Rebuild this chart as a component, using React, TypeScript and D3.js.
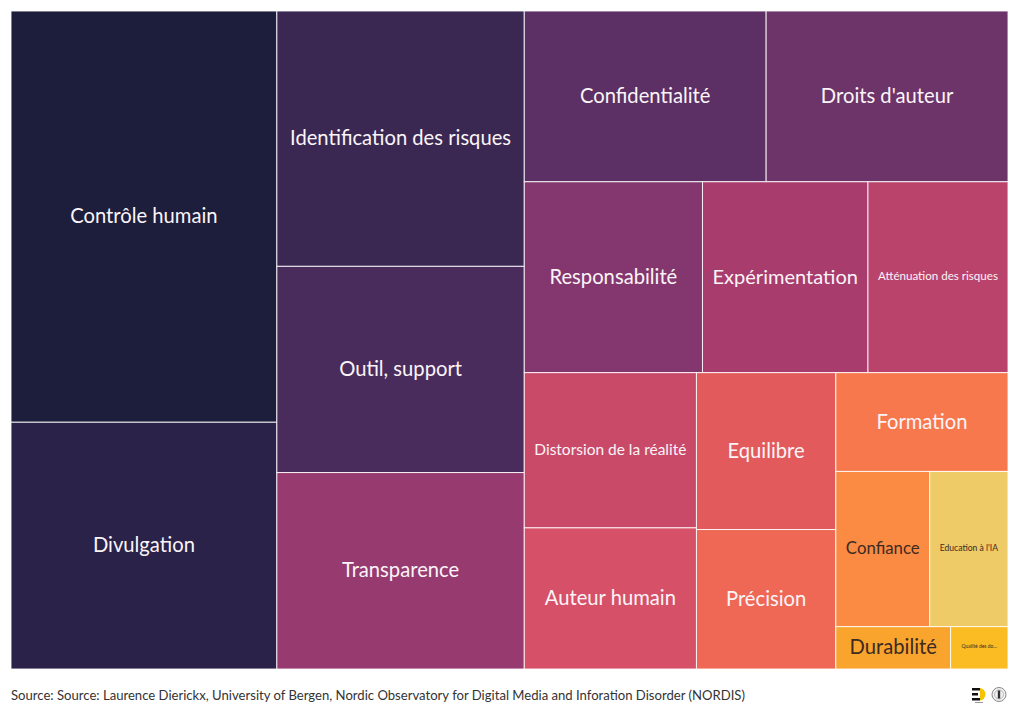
import React, { useMemo } from "react";
import * as d3 from "d3";

const categories = [
  "Contrôle humain",
  "Divulgation",
  "Identification des risques",
  "Outil, support",
  "Transparence",
  "Confidentialité",
  "Droits d'auteur",
  "Responsabilité",
  "Expérimentation",
  "Atténuation des risques",
  "Distorsion de la réalité",
  "Auteur humain",
  "Equilibre",
  "Précision",
  "Formation",
  "Confiance",
  "Education à l'IA",
  "Durabilité",
  "Qualité des données",
];

const values = [45, 27, 26, 21, 20, 17, 17, 14, 13, 11, 11, 10, 9, 8, 7, 6, 5, 2, 1];

const colors = [
  "#1c1e3b",
  "#2a2249",
  "#3a2852",
  "#4a2c5c",
  "#963a6f",
  "#5c3064",
  "#6d3469",
  "#84376e",
  "#a83c6d",
  "#ba436b",
  "#c94a68",
  "#d65067",
  "#e35a5d",
  "#ef6855",
  "#f7784c",
  "#fb8a42",
  "#eecb66",
  "#f9a42d",
  "#fbbb22",
];

const darkText = [false, false, false, false, false, false, false, false, false, false, false, false, false, false, false, true, true, true, true];

const sourceText =
  "Source: Source: Laurence Dierickx, University of Bergen, Nordic Observatory for Digital Media and Inforation Disorder (NORDIS)";

const W = 1020;
const H = 719;
const FONT = "Lato, 'Noto Sans', sans-serif";

let ctx: CanvasRenderingContext2D | null = null;
function measure(text: string, size: number) {
  if (!ctx) ctx = document.createElement("canvas").getContext("2d");
  if (!ctx) return text.length * size * 0.5;
  ctx.font = `${size}px Lato`;
  return ctx.measureText(text).width;
}

export default function App() {
  const leaves = useMemo(() => {
    const data = categories.map((c, i) => ({ name: c, value: values[i], color: colors[i], dark: darkText[i] }));
    const root = d3
      .hierarchy({ children: data } as any)
      .sum((d: any) => d.value || 0)
      .sort((a, b) => (b.value || 0) - (a.value || 0));
    d3.treemap().tile(d3.treemapSquarify.ratio(1)).size([997, 658]).round(false)(root as any);
    return (root.leaves() as any[]).map((l) => {
      const w = l.x1 - l.x0;
      const h = l.y1 - l.y0;
      const maxF = 20.2;
      const minF = 5;
      const unit = measure(l.data.name, 100) / 100;
      let f = Math.min(maxF, (w - 20) / unit, h * 0.8);
      let label = l.data.name;
      if (f < minF) {
        f = minF;
        let n = label.length;
        while (n > 1 && measure(label.slice(0, n) + "...", f) > w - 22) n--;
        label = label.slice(0, n).trimEnd() + "...";
      }
      return { x0: l.x0 + 11, y0: l.y0 + 11, data: l.data, w, h, f, label };
    });
  }, []);

  return (
    <svg width={W} height={H} style={{ position: "absolute", left: 0, top: 0, background: "#fff" }}>
      <g>
        {leaves.map((l: any, i: number) => (
          <g key={i}>
            <rect
              x={l.x0}
              y={l.y0}
              width={l.w}
              height={l.h}
              fill={l.data.color}
              stroke="rgba(255,255,255,0.85)"
              strokeWidth={1}
            />
            <text
              x={l.x0 + l.w / 2}
              y={l.y0 + l.h / 2 - 1.5}
              textAnchor="middle"
              dominantBaseline="central"
              fontFamily={FONT}
              fontSize={l.f}
              fill={l.data.dark ? "#3d2a22" : "#fbf4f8"}
            >
              {l.label}
            </text>
          </g>
        ))}
      </g>
      <text x={11} y={700} fontFamily={FONT} fontSize={13.1} fill="#333">
        {sourceText}
      </text>
      <g transform="translate(972,688)">
        <rect x={0} y={0} width={8} height={2.5} fill="#111" />
        <rect x={0} y={5} width={6} height={2.5} fill="#111" />
        <rect x={0} y={10} width={8} height={2.5} fill="#111" />
        <path d="M8,0 A6.3,6.3 0 0 1 8,12.5 Z" fill="#f4c400" />
        <rect x={3} y={14} width={8} height={1} fill="#999" />
      </g>
      <g transform="translate(999,694.5)">
        <circle r={7} fill="#f2f2f2" stroke="#888" strokeWidth={1} />
        <circle r={4.5} fill="none" stroke="#aaa" strokeWidth={0.8} />
        <rect x={-1.2} y={-4} width={2.4} height={8} fill="#333" />
      </g>
    </svg>
  );
}
